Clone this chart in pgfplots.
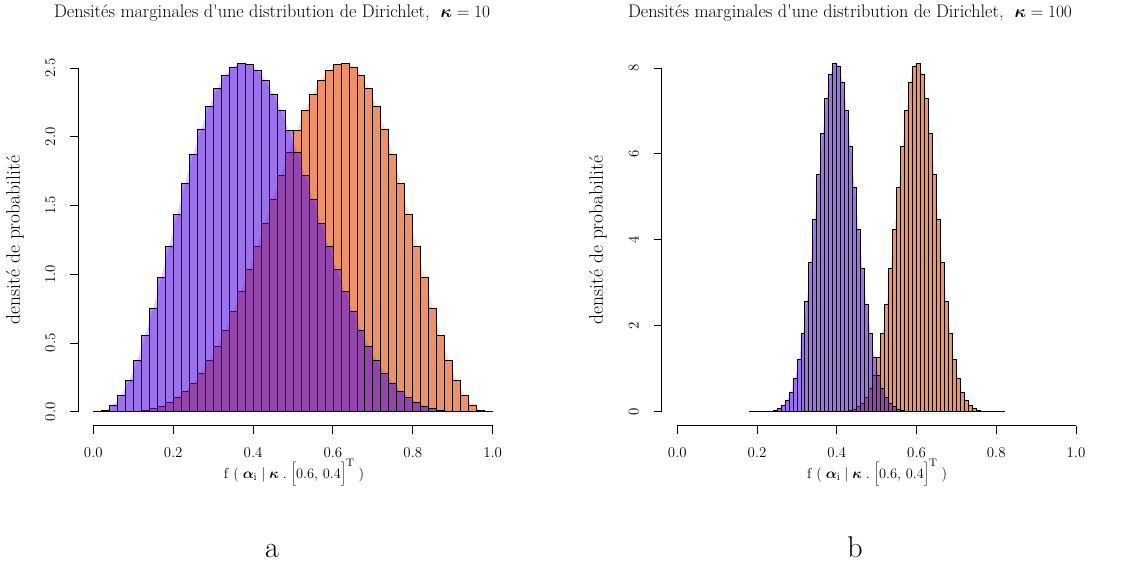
\documentclass[border=0pt]{standalone}
\usepackage{pgfplots}
\usepackage{pgfplotstable}
\pgfplotsset{compat=1.18}
\usepackage{bm}
\definecolor{orangec}{RGB}{238,145,104}
\definecolor{purplec}{RGB}{92,18,222}

\pgfplotstableread{
x y
0.00 0.0005
0.02 0.0117
0.04 0.0488
0.06 0.1203
0.08 0.2293
0.10 0.3746
0.12 0.5519
0.14 0.7547
0.16 0.9754
0.18 1.2054
0.20 1.4363
0.22 1.6599
0.24 1.8688
0.26 2.0566
0.28 2.2177
0.30 2.3483
0.32 2.4453
0.34 2.5073
0.36 2.5336
0.38 2.5251
0.40 2.4834
0.42 2.4111
0.44 2.3114
0.46 2.1883
0.48 2.0459
0.50 1.8886
0.52 1.7209
0.54 1.5473
0.56 1.3722
0.58 1.1993
0.60 1.0322
0.62 0.8739
0.64 0.7270
0.66 0.5932
0.68 0.4740
0.70 0.3700
0.72 0.2813
0.74 0.2076
0.76 0.1481
0.78 0.1015
0.80 0.0663
0.82 0.0409
0.84 0.0235
0.86 0.0123
0.88 0.0057
0.90 0.0022
0.92 0.0007
0.94 0.0001
0.96 0.0000
0.98 0.0000
1.00 0.0000
}\leftpurple

\pgfplotstableread{
x y
0.00 0.0000
0.02 0.0000
0.04 0.0001
0.06 0.0007
0.08 0.0022
0.10 0.0057
0.12 0.0123
0.14 0.0235
0.16 0.0409
0.18 0.0663
0.20 0.1015
0.22 0.1481
0.24 0.2076
0.26 0.2813
0.28 0.3700
0.30 0.4740
0.32 0.5932
0.34 0.7270
0.36 0.8739
0.38 1.0322
0.40 1.1993
0.42 1.3722
0.44 1.5473
0.46 1.7209
0.48 1.8886
0.50 2.0459
0.52 2.1883
0.54 2.3114
0.56 2.4111
0.58 2.4834
0.60 2.5251
0.62 2.5336
0.64 2.5073
0.66 2.4453
0.68 2.3483
0.70 2.2177
0.72 2.0566
0.74 1.8688
0.76 1.6599
0.78 1.4363
0.80 1.2054
0.82 0.9754
0.84 0.7547
0.86 0.5519
0.88 0.3746
0.90 0.2293
0.92 0.1203
0.94 0.0488
0.96 0.0117
0.98 0.0005
1.00 0.0000
}\leftorange

\pgfplotstableread{
x y
0.18 0.00005
0.19 0.00019
0.20 0.00063
0.21 0.0019
0.22 0.0053
0.23 0.0134
0.24 0.0312
0.25 0.0677
0.26 0.1368
0.27 0.2584
0.28 0.4586
0.29 0.7667
0.30 1.2111
0.31 1.8124
0.32 2.5749
0.33 3.4805
0.34 4.4835
0.35 5.5122
0.36 6.4789
0.37 7.2866
0.38 7.8522
0.39 8.1140
0.40 8.0471
0.41 7.6643
0.42 7.0141
0.43 6.1706
0.44 5.2206
0.45 4.2490
0.46 3.3259
0.47 2.5053
0.48 1.8154
0.49 1.2653
0.50 0.8482
0.51 0.5466
0.52 0.3385
0.53 0.2013
0.54 0.1150
0.55 0.0630
0.56 0.0330
0.57 0.0166
0.58 0.0080
0.59 0.0037
0.60 0.0016
0.61 0.0007
0.62 0.0003
0.63 0.0000
}\rightpurple

\pgfplotstableread{
x y
0.37 0.0003
0.38 0.0007
0.39 0.0016
0.40 0.0037
0.41 0.0080
0.42 0.0166
0.43 0.0330
0.44 0.0630
0.45 0.1150
0.46 0.2013
0.47 0.3385
0.48 0.5466
0.49 0.8482
0.50 1.2653
0.51 1.8154
0.52 2.5053
0.53 3.3259
0.54 4.2490
0.55 5.2206
0.56 6.1706
0.57 7.0141
0.58 7.6643
0.59 8.0471
0.60 8.1140
0.61 7.8522
0.62 7.2866
0.63 6.4789
0.64 5.5122
0.65 4.4835
0.66 3.4805
0.67 2.5749
0.68 1.8124
0.69 1.2111
0.70 0.7667
0.71 0.4586
0.72 0.2584
0.73 0.1368
0.74 0.0677
0.75 0.0312
0.76 0.0134
0.77 0.0053
0.78 0.0019
0.79 0.00063
0.80 0.00019
0.81 0.00005
0.82 0.0000
}\rightorange

\pgfplotsset{
  dataaxis/.style={scale only axis, anchor=south west, hide axis, clip=false,
    xmin=0, xmax=1, ymin=0},
  baraxis/.style={scale only axis, anchor=south west, tick align=outside,
    major tick length=8pt, axis line style={-, line width=0.9pt, black},
    tick style={line width=0.9pt, black},
    tick label style={font=\fontsize{14.9}{16}\selectfont}},
  orangebar/.style={ybar interval, fill=orangec, draw=black, line width=0.8pt},
  purplebar/.style={ybar interval, fill=purplec, fill opacity=0.5, draw=black, draw opacity=1, line width=0.8pt},
  orangehalo/.style={smooth, draw=none, fill=orangec, fill opacity=0.35},
  purplehalo/.style={smooth, draw=none, fill=purplec, fill opacity=0.2},
}

\begin{document}
\begin{tikzpicture}
\useasboundingbox (0pt,0pt) rectangle (1126pt,566pt);

% ---------- left panel ----------
\begin{axis}[dataaxis, at={(93.3pt,154.3pt)}, width=399.4pt, height=343.7pt, ymax=2.5]
\addplot[orangehalo] table[x expr=\thisrow{x}+0.01,y=y] {\leftorange} \closedcycle;
\addplot[orangebar] table[x=x,y=y] {\leftorange};
\addplot[purplehalo] table[x expr=\thisrow{x}+0.01,y=y] {\leftpurple} \closedcycle;
\addplot[purplebar] table[x=x,y=y] {\leftpurple};
\end{axis}
\begin{axis}[baraxis, at={(93.3pt,140.3pt)}, width=399.4pt, height=20pt,
  xmin=0, xmax=1, ymin=0, ymax=1, axis x line*=bottom, hide y axis,
  xtick={0,0.2,0.4,0.6,0.8,1}, xticklabels={0.0,0.2,0.4,0.6,0.8,1.0},
  xticklabel style={anchor=center, yshift=-19pt}]
\end{axis}
\begin{axis}[baraxis, at={(78.3pt,154.3pt)}, width=20pt, height=343.7pt,
  xmin=0, xmax=1, ymin=0, ymax=2.5, axis y line*=left, hide x axis,
  ytick={0,0.5,1,1.5,2,2.5}, yticklabels={0.0,0.5,1.0,1.5,2.0,2.5},
  yticklabel style={anchor=center, rotate=90, yshift=20pt}]
\end{axis}

% ---------- right panel ----------
\begin{axis}[dataaxis, at={(677.3pt,154.3pt)}, width=398.7pt, height=343.7pt, ymax=8]
\addplot[orangehalo] table[x expr=\thisrow{x}+0.005,y=y] {\rightorange} \closedcycle;
\addplot[orangebar] table[x=x,y=y] {\rightorange};
\addplot[purplehalo] table[x expr=\thisrow{x}+0.005,y=y] {\rightpurple} \closedcycle;
\addplot[purplebar] table[x=x,y=y] {\rightpurple};
\end{axis}
\begin{axis}[baraxis, at={(677.3pt,140.3pt)}, width=398.7pt, height=20pt,
  xmin=0, xmax=1, ymin=0, ymax=1, axis x line*=bottom, hide y axis,
  xtick={0,0.2,0.4,0.6,0.8,1}, xticklabels={0.0,0.2,0.4,0.6,0.8,1.0},
  xticklabel style={anchor=center, yshift=-19pt}]
\end{axis}
\begin{axis}[baraxis, at={(661.7pt,154.3pt)}, width=20pt, height=343.7pt,
  xmin=0, xmax=1, ymin=0, ymax=8, axis y line*=left, hide x axis,
  ytick={0,2,4,6,8}, yticklabels={0,2,4,6,8},
  yticklabel style={anchor=center, rotate=90, yshift=20pt}]
\end{axis}

% ---------- texts ----------
\node[anchor=base, font=\fontsize{18.2}{20}\selectfont] at (272pt,548.7pt)
  {Densités marginales d\textquotesingle une distribution de Dirichlet,~~$\bm{\kappa}=10$};
\node[anchor=base, font=\fontsize{18.2}{20}\selectfont] at (850pt,548.7pt)
  {Densités marginales d\textquotesingle une distribution de Dirichlet,~~$\bm{\kappa}=100$};
\node[rotate=90, font=\fontsize{19.5}{21}\selectfont] at (15pt,326pt) {densité de probabilité};
\node[rotate=90, font=\fontsize{19.5}{21}\selectfont] at (598pt,326pt) {densité de probabilité};
\node[anchor=base, font=\fontsize{15.4}{17}\selectfont] at (294pt,88pt)
  {$\mathrm{f}\;(\;\bm{\alpha}_{\mathrm{i}}\mid\bm{\kappa}\;.\;\bigg[0.6,\,0.4\bigg]^{\mathrm{T}}\;)$};
\node[anchor=base, font=\fontsize{15.4}{17}\selectfont] at (877pt,88pt)
  {$\mathrm{f}\;(\;\bm{\alpha}_{\mathrm{i}}\mid\bm{\kappa}\;.\;\bigg[0.6,\,0.4\bigg]^{\mathrm{T}}\;)$};
\node[anchor=base, font=\fontsize{30}{32}\selectfont] at (272pt,9pt) {a};
\node[anchor=base, font=\fontsize{30}{32}\selectfont] at (855pt,9pt) {b};
\end{tikzpicture}
\end{document}
